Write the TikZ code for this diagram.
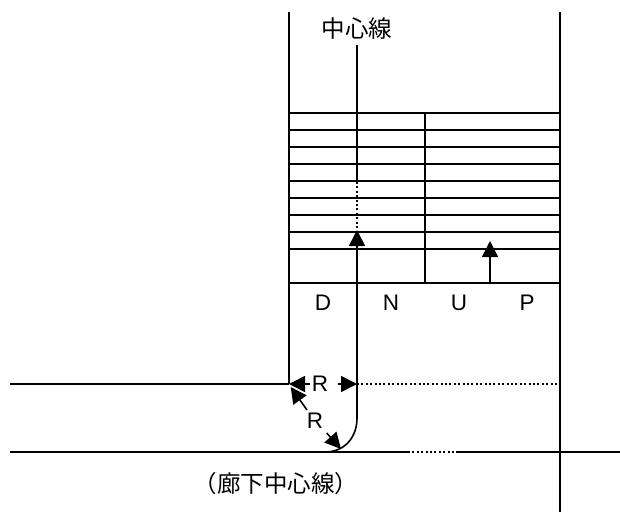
\documentclass[tikz,border=0pt]{standalone}
\usepackage{fontspec}
\setmainfont{Liberation Sans}
\newfontfamily\cjk{Noto Sans CJK JP}
\usetikzlibrary{arrows.meta, positioning}

\begin{document}
\begin{tikzpicture}[x=1pt, y=-1pt, line width=1.6pt, node distance = 68pt, on grid,
    label/.style={font=\fontsize{22.5}{23}\selectfont, inner sep=0pt},
    jlabel/.style={font=\cjk\fontsize{23.5}{24}\selectfont, inner sep=0pt},
    dots/.style={dash pattern=on 2pt off 2.4pt},
    tip/.style={-{Triangle[length=16pt,width=16pt]}}]
\useasboundingbox (0,0) rectangle (620,516);

\coordinate (wallLT) at (289,12);
\coordinate (wallLB) at (289,384);
\coordinate (wallRT) at (560,12);
\coordinate (wallRB) at (560,512);
\coordinate (stairT) at (425,113);
\coordinate (stairB) at (425,283);
\coordinate (upS) at (490,283);
\coordinate (upE) at (490,241);
\coordinate (midT) at (357,45);
\coordinate (midD) at (357,182);
\coordinate (midA) at (357,230);
\coordinate (midC) at (357,418);
\coordinate (midR) at (357,384);
\coordinate (midL) at (325,452);
\coordinate (hallA) at (10,384);
\coordinate (hallB) at (560,384);
\coordinate (lowA) at (10,452);
\coordinate (lowB) at (408,452);
\coordinate (lowC) at (457,452);
\coordinate (lowD) at (620,452);

\node[jlabel] (mid) at (357,29) {中心線};
\node[jlabel] (hall) at (276,484) {（廊下中心線）};
\node[label] (d) at (323,303) {D};
\node[label, right=of d] (n) {N};
\node[label, right=of n] (u) {U};
\node[label, right=of u] (p) {P};
\node[label] (r1) at (320,384) {R};
\node[label] (r2) at (315,421) {R};

\draw (wallLT) -- (wallLB);
\draw (wallRT) -- (wallRB);
\foreach \y in {113,130,147,164,181,198,215,232,249,283}
  \draw (289,\y) -- (560,\y);
\draw (stairT) -- (stairB);
\draw[tip] (upS) -- (upE);

\draw (midT) -- (midD);
\draw[dots] (midD) -- (midA);
\draw[tip] (midL) .. controls (345,452) and (357,437) .. (midC) -- (midA);

\draw (hallA) -- (wallLB);
\draw[dots] (midR) -- (hallB);
\draw (lowA) -- (lowB);
\draw[dots] (lowB) -- (lowC);
\draw (lowC) -- (lowD);

\draw[tip] (r1.west) ++(-1,0) -- (wallLB);
\draw[tip] (r1.east) ++(9,0) -- (midR);
\draw[tip] (307,410) -- (290.7,387);
\draw[tip] (326.7,433) -- (341,449);
\end{tikzpicture}
\end{document}
